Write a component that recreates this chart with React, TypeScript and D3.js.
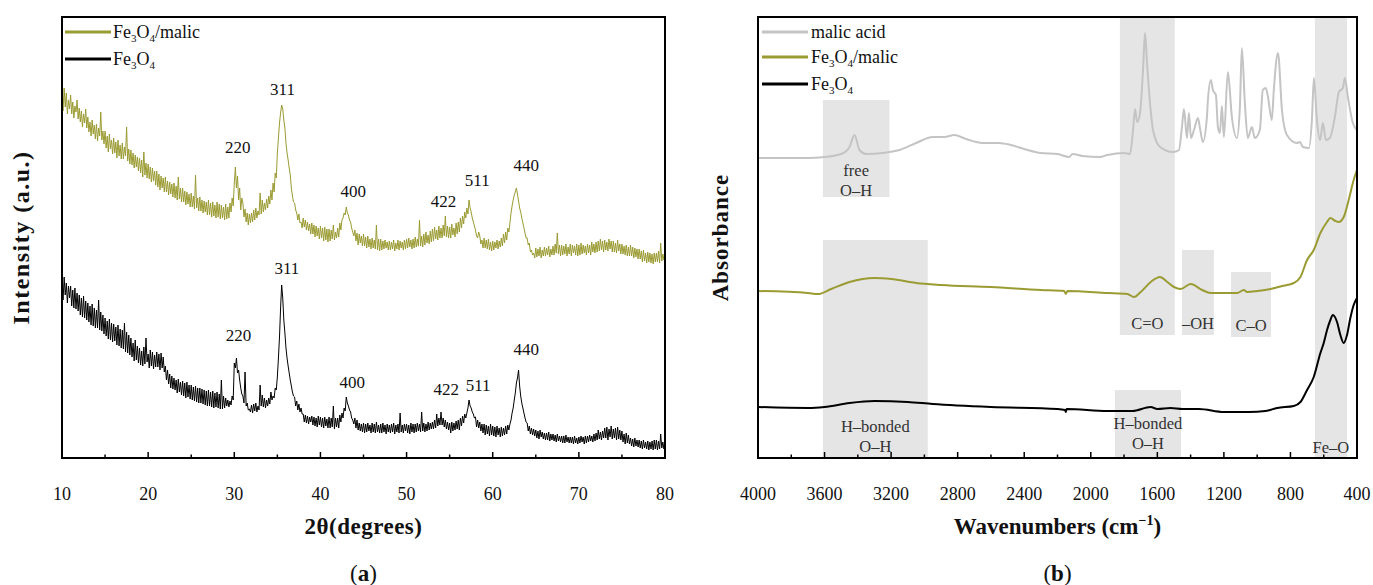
import React from "react";
import * as d3 from "d3";

// ---------- (a) XRD data ----------
const THETA_START = 10;
const THETA_STEP = 0.125;
// Fe3O4/malic intensity (a.u.), sampled every 0.125° from 10° to 80°
const xrdMalic = [
  362, 347, 370, 351, 365, 344, 358, 349,
  363, 344, 356, 340, 352, 346, 358, 339,
  350, 336, 347, 331, 344, 335, 349, 330,
  341, 326, 336, 322, 338, 324, 333, 319,
  334, 317, 330, 322, 346, 318, 327, 314,
  327, 310, 322, 306, 324, 309, 318, 304,
  320, 305, 316, 300, 318, 302, 313, 299,
  315, 299, 311, 302, 331, 297, 309, 294,
  308, 293, 305, 290, 303, 291, 301, 287,
  300, 285, 298, 281, 306, 283, 295, 280,
  294, 279, 291, 276, 290, 277, 287, 273,
  287, 271, 284, 268, 282, 270, 280, 266,
  281, 266, 277, 263, 276, 264, 274, 261,
  275, 260, 272, 258, 281, 259, 270, 256,
  270, 256, 267, 253, 266, 254, 264, 251,
  265, 251, 262, 249, 283, 250, 260, 247,
  261, 247, 258, 245, 257, 246, 256, 243,
  258, 243, 255, 241, 256, 242, 253, 240,
  256, 241, 254, 239, 253, 240, 251, 238,
  254, 239, 251, 240, 255, 246, 260, 252,
  275, 291, 270, 282, 258, 270, 248, 260,
  255, 241, 249, 236, 245, 233, 244, 235,
  245, 236, 248, 238, 250, 240, 247, 243,
  265, 244, 258, 246, 255, 248, 259, 250,
  262, 254, 268, 258, 275, 266, 285, 280,
  305, 320, 335, 345, 353, 349, 338, 330,
  315, 305, 298, 290, 283, 270, 262, 256,
  255, 248, 245, 238, 244, 235, 236, 230,
  240, 231, 238, 228, 236, 227, 234, 224,
  235, 224, 233, 221, 232, 222, 230, 219,
  232, 220, 230, 217, 231, 218, 229, 216,
  229, 217, 228, 219, 233, 218, 226, 220,
  230, 221, 235, 228, 238, 240, 245, 243,
  251, 245, 243, 238, 236, 230, 226, 222,
  228, 217, 225, 213, 224, 215, 222, 212,
  224, 212, 221, 210, 222, 211, 219, 209,
  220, 210, 218, 209, 233, 208, 219, 207,
  219, 208, 217, 209, 218, 210, 216, 208,
  217, 208, 216, 209, 218, 207, 215, 209,
  218, 208, 217, 210, 216, 208, 218, 209,
  219, 210, 220, 211, 218, 209, 219, 210,
  221, 211, 219, 212, 238, 212, 222, 211,
  224, 213, 226, 215, 223, 214, 227, 216,
  229, 217, 231, 219, 228, 218, 232, 220,
  230, 220, 233, 222, 242, 221, 232, 220,
  231, 220, 234, 223, 230, 221, 235, 224,
  236, 226, 240, 230, 242, 234, 246, 240,
  250, 244, 258, 250, 246, 240, 236, 232,
  228, 222, 220, 226, 222, 214, 218, 210,
  220, 210, 218, 209, 219, 208, 216, 207,
  217, 208, 216, 210, 218, 209, 217, 211,
  220, 212, 224, 215, 226, 218, 230, 226,
  235, 245, 252, 258, 263, 266, 270, 264,
  257, 250, 246, 240, 235, 230, 225, 220,
  220, 213, 215, 206, 208, 203, 205, 200,
  210, 201, 209, 202, 211, 200, 208, 202,
  211, 202, 210, 203, 212, 201, 209, 203,
  212, 203, 214, 205, 225, 204, 213, 202,
  213, 203, 212, 204, 214, 202, 211, 204,
  214, 202, 213, 205, 212, 203, 214, 202,
  213, 203, 215, 204, 213, 205, 212, 203,
  214, 205, 213, 203, 216, 206, 214, 205,
  216, 206, 217, 207, 219, 208, 217, 206,
  218, 208, 216, 207, 219, 209, 217, 206,
  217, 206, 215, 205, 218, 207, 214, 204,
  214, 204, 212, 203, 213, 202, 211, 202,
  213, 202, 211, 200, 210, 201, 209, 199,
  209, 199, 207, 196, 208, 197, 205, 195,
  206, 196, 205, 195, 204, 194, 205, 196,
  205, 196, 207, 195, 215, 197, 204, 198,
  202,
];
// Fe3O4 intensity (a.u.)
const xrdBare = [
  178, 158, 181, 163, 175, 155, 172, 160,
  172, 152, 168, 150, 170, 149, 165, 147,
  163, 143, 160, 141, 162, 140, 157, 138,
  155, 136, 152, 133, 154, 132, 150, 130,
  148, 130, 158, 128, 146, 127, 143, 124,
  140, 122, 137, 119, 139, 118, 135, 116,
  134, 117, 131, 113, 133, 112, 129, 110,
  128, 109, 135, 106, 126, 105, 123, 103,
  120, 101, 115, 97, 118, 98, 112, 95,
  110, 93, 107, 92, 111, 94, 120, 96,
  104, 90, 108, 92, 106, 89, 103, 91,
  106, 91, 104, 88, 105, 90, 101, 86,
  92, 78, 88, 74, 84, 70, 82, 69,
  80, 68, 78, 65, 79, 66, 76, 63,
  77, 62, 75, 60, 76, 61, 73, 59,
  73, 58, 71, 57, 72, 56, 70, 55,
  70, 55, 69, 54, 68, 53, 67, 52,
  68, 52, 66, 51, 67, 50, 65, 51,
  66, 50, 64, 49, 78, 49, 62, 50,
  60, 52, 58, 51, 57, 53, 62, 58,
  95, 90, 100, 85, 88, 78, 70, 64,
  62, 55, 86, 52, 55, 48, 49, 46,
  53, 45, 54, 47, 55, 46, 52, 48,
  73, 52, 63, 51, 60, 50, 58, 52,
  60, 54, 66, 58, 62, 60, 70, 68,
  81, 100, 121, 150, 173, 160, 138, 125,
  110, 100, 92, 85, 78, 72, 66, 62,
  61, 52, 57, 48, 54, 46, 50, 44,
  44, 36, 43, 35, 42, 34, 41, 36,
  42, 33, 41, 32, 40, 31, 42, 33,
  41, 31, 40, 30, 41, 32, 39, 30,
  41, 30, 40, 31, 52, 29, 40, 31,
  40, 30, 43, 36, 45, 40, 50, 47,
  61, 55, 52, 48, 46, 40, 38, 34,
  40, 30, 38, 28, 35, 27, 34, 26,
  35, 25, 34, 26, 35, 27, 33, 25,
  35, 26, 34, 25, 36, 26, 33, 25,
  34, 25, 35, 26, 33, 24, 34, 26,
  33, 25, 34, 26, 35, 24, 33, 26,
  34, 25, 45, 26, 33, 25, 34, 27,
  34, 25, 33, 24, 35, 26, 34, 25,
  34, 26, 35, 27, 34, 26, 46, 27,
  35, 26, 34, 27, 36, 28, 35, 29,
  36, 29, 38, 30, 44, 32, 40, 33,
  46, 33, 40, 31, 38, 29, 36, 28,
  35, 25, 36, 27, 35, 28, 37, 29,
  38, 28, 40, 32, 42, 35, 44, 40,
  45, 50, 58, 52, 50, 46, 44, 40,
  41, 31, 38, 30, 36, 27, 34, 25,
  34, 23, 33, 24, 32, 22, 34, 23,
  32, 22, 31, 21, 32, 23, 30, 21,
  31, 22, 30, 23, 32, 24, 33, 28,
  34, 38, 45, 50, 58, 65, 75, 80,
  88, 72, 62, 55, 50, 45, 40, 36,
  35, 27, 32, 24, 30, 23, 29, 22,
  28, 20, 27, 19, 28, 21, 26, 19,
  25, 18, 25, 18, 26, 17, 24, 18,
  24, 17, 23, 16, 24, 17, 22, 16,
  22, 15, 22, 15, 23, 16, 21, 15,
  21, 15, 21, 14, 22, 15, 20, 14,
  21, 15, 22, 16, 21, 14, 22, 15,
  22, 16, 23, 17, 22, 16, 24, 17,
  25, 18, 28, 19, 26, 18, 27, 20,
  30, 20, 31, 18, 29, 21, 32, 19,
  29, 20, 30, 18, 31, 19, 28, 18,
  27, 16, 24, 14, 25, 15, 23, 14,
  20, 12, 19, 11, 20, 12, 18, 11,
  18, 10, 17, 9, 18, 10, 16, 9,
  17, 8, 16, 9, 17, 8, 18, 9,
  18, 8, 17, 9, 24, 10, 16, 9,
  16,
];
const xrdTicks = [10, 20, 30, 40, 50, 60, 70, 80];
const xrdMinorTicks = [15, 25, 35, 45, 55, 65, 75];
// peak labels: [label, 2θ, intensity]
const peaksMalic: [string, number, number][] = [
  ["220", 30.4, 311], ["311", 35.6, 369], ["400", 43.8, 267],
  ["422", 54.3, 257], ["511", 58.2, 278], ["440", 63.9, 293],
];
const peaksBare: [string, number, number][] = [
  ["220", 30.5, 123], ["311", 36.1, 190], ["400", 43.7, 76],
  ["422", 54.6, 69], ["511", 58.3, 73], ["440", 63.9, 109],
];

// ---------- (b) FTIR data: [wavenumber, absorbance (a.u.)] ----------
const ftirMalicAcid: [number, number][] = [
  [4000, 300], [3700, 300], [3600, 301], [3500, 304], [3450, 311], [3420, 323], [3390, 308],
  [3350, 304], [3250, 305], [3150, 308], [3050, 315], [2950, 321], [2880, 321], [2820, 323],
  [2750, 319], [2650, 315], [2550, 315], [2480, 313], [2400, 309], [2300, 305], [2200, 304],
  [2130, 301], [2110, 304], [2050, 302], [1945, 301], [1900, 303], [1800, 305], [1764, 304],
  [1746, 328], [1734, 349], [1722, 336], [1704, 345], [1686, 388], [1674, 425], [1662, 395],
  [1644, 355], [1626, 328], [1584, 311], [1506, 306], [1470, 308], [1452, 331], [1440, 349],
  [1422, 320], [1410, 345], [1398, 320], [1380, 328], [1356, 340], [1344, 330], [1326, 316],
  [1302, 341], [1296, 358], [1278, 378], [1266, 368], [1248, 363], [1236, 331], [1224, 325],
  [1212, 352], [1200, 321], [1176, 386], [1152, 341], [1122, 320], [1104, 350], [1092, 410],
  [1074, 355], [1056, 320], [1032, 331], [1014, 320], [984, 328], [966, 368], [948, 370],
  [935, 361], [912, 338], [900, 368], [875, 405], [851, 348], [821, 323], [761, 315],
  [743, 316], [725, 311], [689, 310], [671, 338], [659, 380], [641, 338], [622, 318],
  [605, 335], [587, 318], [563, 320], [533, 341], [509, 366], [485, 370], [473, 380],
  [455, 361], [425, 335], [400, 328],
];
const ftirMalic: [number, number][] = [
  [4000, 167], [3700, 165], [3640, 164], [3560, 169], [3450, 176], [3300, 180], [3200, 179],
  [3050, 175], [2900, 173], [2600, 171], [2300, 168], [2160, 167], [2150, 164], [2140, 167],
  [1900, 165], [1780, 164], [1740, 161], [1700, 166], [1640, 176], [1584, 181], [1540, 176],
  [1500, 171], [1460, 169], [1400, 174], [1330, 168], [1280, 165], [1200, 165], [1120, 165],
  [1080, 168], [1060, 166], [1000, 167], [920, 169], [850, 172], [780, 175], [740, 181],
  [700, 198], [660, 208], [620, 225], [580, 236], [560, 240], [530, 237], [510, 236],
  [480, 241], [450, 258], [420, 278], [400, 288],
];
const ftirBare: [number, number][] = [
  [4000, 51], [3700, 50], [3600, 51], [3450, 55], [3300, 57], [3100, 56], [2950, 54],
  [2600, 51], [2200, 49], [2155, 48], [2150, 46], [2145, 49], [1900, 47], [1750, 47],
  [1640, 51], [1600, 49], [1520, 50], [1450, 49], [1350, 49], [1200, 46], [1050, 46],
  [950, 47], [880, 50], [780, 52], [740, 56], [700, 68], [660, 81], [620, 105], [600, 115],
  [580, 128], [560, 138], [545, 143], [520, 136], [500, 123], [480, 115], [460, 123],
  [440, 140], [420, 153], [400, 160],
];
const ftirTicks = [4000, 3600, 3200, 2800, 2400, 2000, 1600, 1200, 800, 400];
const ftirMinorTicks = [3800, 3400, 3000, 2600, 2200, 1800, 1400, 1000, 600];
// shaded bands: [from, to, absorbance top, absorbance bottom, label lines]
const bands: [number, number, number, number, string[]][] = [
  [3610, 3210, 358, 261, ["free", "O–H"]],
  [3610, 2980, 218, 0, ["H–bonded", "O–H"]],
  [1825, 1495, 441, 123, ["C=O"]],
  [1452, 1260, 208, 123, ["–OH"]],
  [1157, 917, 186, 121, ["C–O"]],
  [1855, 1458, 68, 0, ["H–bonded", "O–H"]],
  [653, 460, 441, 0, ["Fe–O"]],
];
// label positions (absorbance of first line baseline)
const bandLabelY = [282, 26, 129, 129, 127, 29, 5];

const OLIVE = "#9b9b33";
const GRAY = "#c4c4c4";
const BLACK = "#000000";
const FONT = "'Liberation Serif', 'DejaVu Serif', serif";

const W = 1373;
const H = 585;
const TOP = 17;
const BOTTOM = 458;

function FeLabel({ x, y, suffix }: { x: number; y: number; suffix?: string }) {
  return (
    <text x={x} y={y} fontSize={18} fontFamily={FONT} fill="#111">
      Fe<tspan fontSize={11} dy={4}>3</tspan>
      <tspan dy={-4}>O</tspan>
      <tspan fontSize={11} dy={4}>4</tspan>
      {suffix ? <tspan dy={-4}>{suffix}</tspan> : null}
    </text>
  );
}

export default function App() {
  // ---- scales (a)
  const xa = d3.scaleLinear().domain([10, 80]).range([62, 665]);
  const ya = d3.scaleLinear().domain([0, 441]).range([BOTTOM, TOP]);
  const lineA = d3
    .line<number>()
    .x((_, i) => xa(THETA_START + i * THETA_STEP))
    .y((d) => ya(d));

  // ---- scales (b)
  const xb = d3.scaleLinear().domain([4000, 400]).range([758, 1357]);
  const yb = d3.scaleLinear().domain([0, 441]).range([BOTTOM, TOP]);
  const lineB = d3
    .line<[number, number]>()
    .x((d) => xb(d[0]))
    .y((d) => yb(d[1]))
    .curve(d3.curveMonotoneX);

  const axisStroke = 2;
  const tickFont = 18;

  return (
    <svg
      width={W}
      height={H}
      style={{ position: "absolute", left: 0, top: 0, background: "#fff" }}
      fontFamily={FONT}
    >
      <rect x={0} y={0} width={W} height={H} fill="#fff" />
      {/* ================= Panel (a) ================= */}
      <g>
        <path d={lineA(xrdMalic) || ""} fill="none" stroke={OLIVE} strokeWidth={1} />
        <path d={lineA(xrdBare) || ""} fill="none" stroke={BLACK} strokeWidth={1} />
        {peaksMalic.map(([l, t, v], i) => (
          <text key={"pm" + i} x={xa(t)} y={ya(v) + 6} fontSize={17} textAnchor="middle" fill="#111">
            {l}
          </text>
        ))}
        {peaksBare.map(([l, t, v], i) => (
          <text key={"pb" + i} x={xa(t)} y={ya(v) + 6} fontSize={17} textAnchor="middle" fill="#111">
            {l}
          </text>
        ))}
        {/* frame */}
        <rect x={xa(10)} y={TOP} width={xa(80) - xa(10)} height={BOTTOM - TOP} fill="none" stroke="#000" strokeWidth={axisStroke} />
        {xrdTicks.map((t) => (
          <g key={"ta" + t}>
            <line x1={xa(t)} x2={xa(t)} y1={BOTTOM} y2={BOTTOM - 6} stroke="#000" strokeWidth={1.5} />
            <text x={xa(t)} y={BOTTOM + 42} fontSize={tickFont} textAnchor="middle" fill="#111">
              {t}
            </text>
          </g>
        ))}
        {xrdMinorTicks.map((t) => (
          <line key={"tma" + t} x1={xa(t)} x2={xa(t)} y1={BOTTOM} y2={BOTTOM - 3.5} stroke="#000" strokeWidth={1.5} />
        ))}
        {/* legend */}
        <line x1={65} x2={111} y1={32} y2={32} stroke={OLIVE} strokeWidth={3} />
        <FeLabel x={113} y={38} suffix="/malic" />
        <line x1={65} x2={111} y1={59} y2={59} stroke={BLACK} strokeWidth={3} />
        <FeLabel x={113} y={65} />
        {/* axis titles */}
        <text
          transform={`translate(29, ${(TOP + BOTTOM) / 2}) rotate(-90)`}
          textAnchor="middle"
          fontSize={24}
          fontWeight="bold"
          letterSpacing={1.5}
          fill="#111"
        >
          Intensity (a.u.)
        </text>
        <text x={(xa(10) + xa(80)) / 2} y={534} textAnchor="middle" fontSize={23} fontWeight="bold" letterSpacing={0.5} fill="#111">
          2θ(degrees)
        </text>
        <text x={(xa(10) + xa(80)) / 2} y={581} textAnchor="middle" fontSize={23} fill="#111">
          (<tspan fontWeight="bold">a</tspan>)
        </text>
      </g>

      {/* ================= Panel (b) ================= */}
      <g>
        {bands.map(([a, b, t, bt], i) => (
          <rect
            key={"band" + i}
            x={xb(a)}
            y={yb(t)}
            width={xb(b) - xb(a)}
            height={yb(bt) - yb(t)}
            fill="#e5e5e5"
          />
        ))}
        {bands.map(([a, b, , , lines], i) => (
          <text key={"bl" + i} x={(xb(a) + xb(b)) / 2} y={yb(bandLabelY[i])} fontSize={16.5} textAnchor="middle" fill="#333">
            {lines.map((s, j) => (
              <tspan key={j} x={(xb(a) + xb(b)) / 2} dy={j === 0 ? 0 : 20}>
                {s}
              </tspan>
            ))}
          </text>
        ))}
        <path d={lineB(ftirMalicAcid) || ""} fill="none" stroke={GRAY} strokeWidth={2} />
        <path d={lineB(ftirMalic) || ""} fill="none" stroke={OLIVE} strokeWidth={2} />
        <path d={lineB(ftirBare) || ""} fill="none" stroke={BLACK} strokeWidth={2} />
        <rect x={xb(4000)} y={TOP} width={xb(400) - xb(4000)} height={BOTTOM - TOP} fill="none" stroke="#000" strokeWidth={axisStroke} />
        {ftirTicks.map((t) => (
          <g key={"tb" + t}>
            <line x1={xb(t)} x2={xb(t)} y1={BOTTOM} y2={BOTTOM - 6} stroke="#000" strokeWidth={1.5} />
            <text x={xb(t)} y={BOTTOM + 42} fontSize={tickFont} textAnchor="middle" fill="#111">
              {t}
            </text>
          </g>
        ))}
        {ftirMinorTicks.map((t) => (
          <line key={"tmb" + t} x1={xb(t)} x2={xb(t)} y1={BOTTOM} y2={BOTTOM - 3.5} stroke="#000" strokeWidth={1.5} />
        ))}
        {/* legend */}
        <line x1={762} x2={808} y1={32} y2={32} stroke={GRAY} strokeWidth={3} />
        <text x={811} y={38} fontSize={18} fill="#111">malic acid</text>
        <line x1={762} x2={808} y1={57} y2={57} stroke={OLIVE} strokeWidth={3} />
        <FeLabel x={811} y={63} suffix="/malic" />
        <line x1={762} x2={808} y1={84} y2={84} stroke={BLACK} strokeWidth={3} />
        <FeLabel x={811} y={90} />
        {/* axis titles */}
        <text
          transform={`translate(728, ${(TOP + BOTTOM) / 2}) rotate(-90)`}
          textAnchor="middle"
          fontSize={23}
          fontWeight="bold"
          letterSpacing={1}
          fill="#111"
        >
          Absorbance
        </text>
        <text x={(xb(4000) + xb(400)) / 2} y={534} textAnchor="middle" fontSize={23} fontWeight="bold" fill="#111">
          Wavenumbers (cm<tspan fontSize={14} dy={-9}>−1</tspan>
          <tspan dy={9}>)</tspan>
        </text>
        <text x={(xb(4000) + xb(400)) / 2} y={581} textAnchor="middle" fontSize={23} fill="#111">
          (<tspan fontWeight="bold">b</tspan>)
        </text>
      </g>
    </svg>
  );
}
